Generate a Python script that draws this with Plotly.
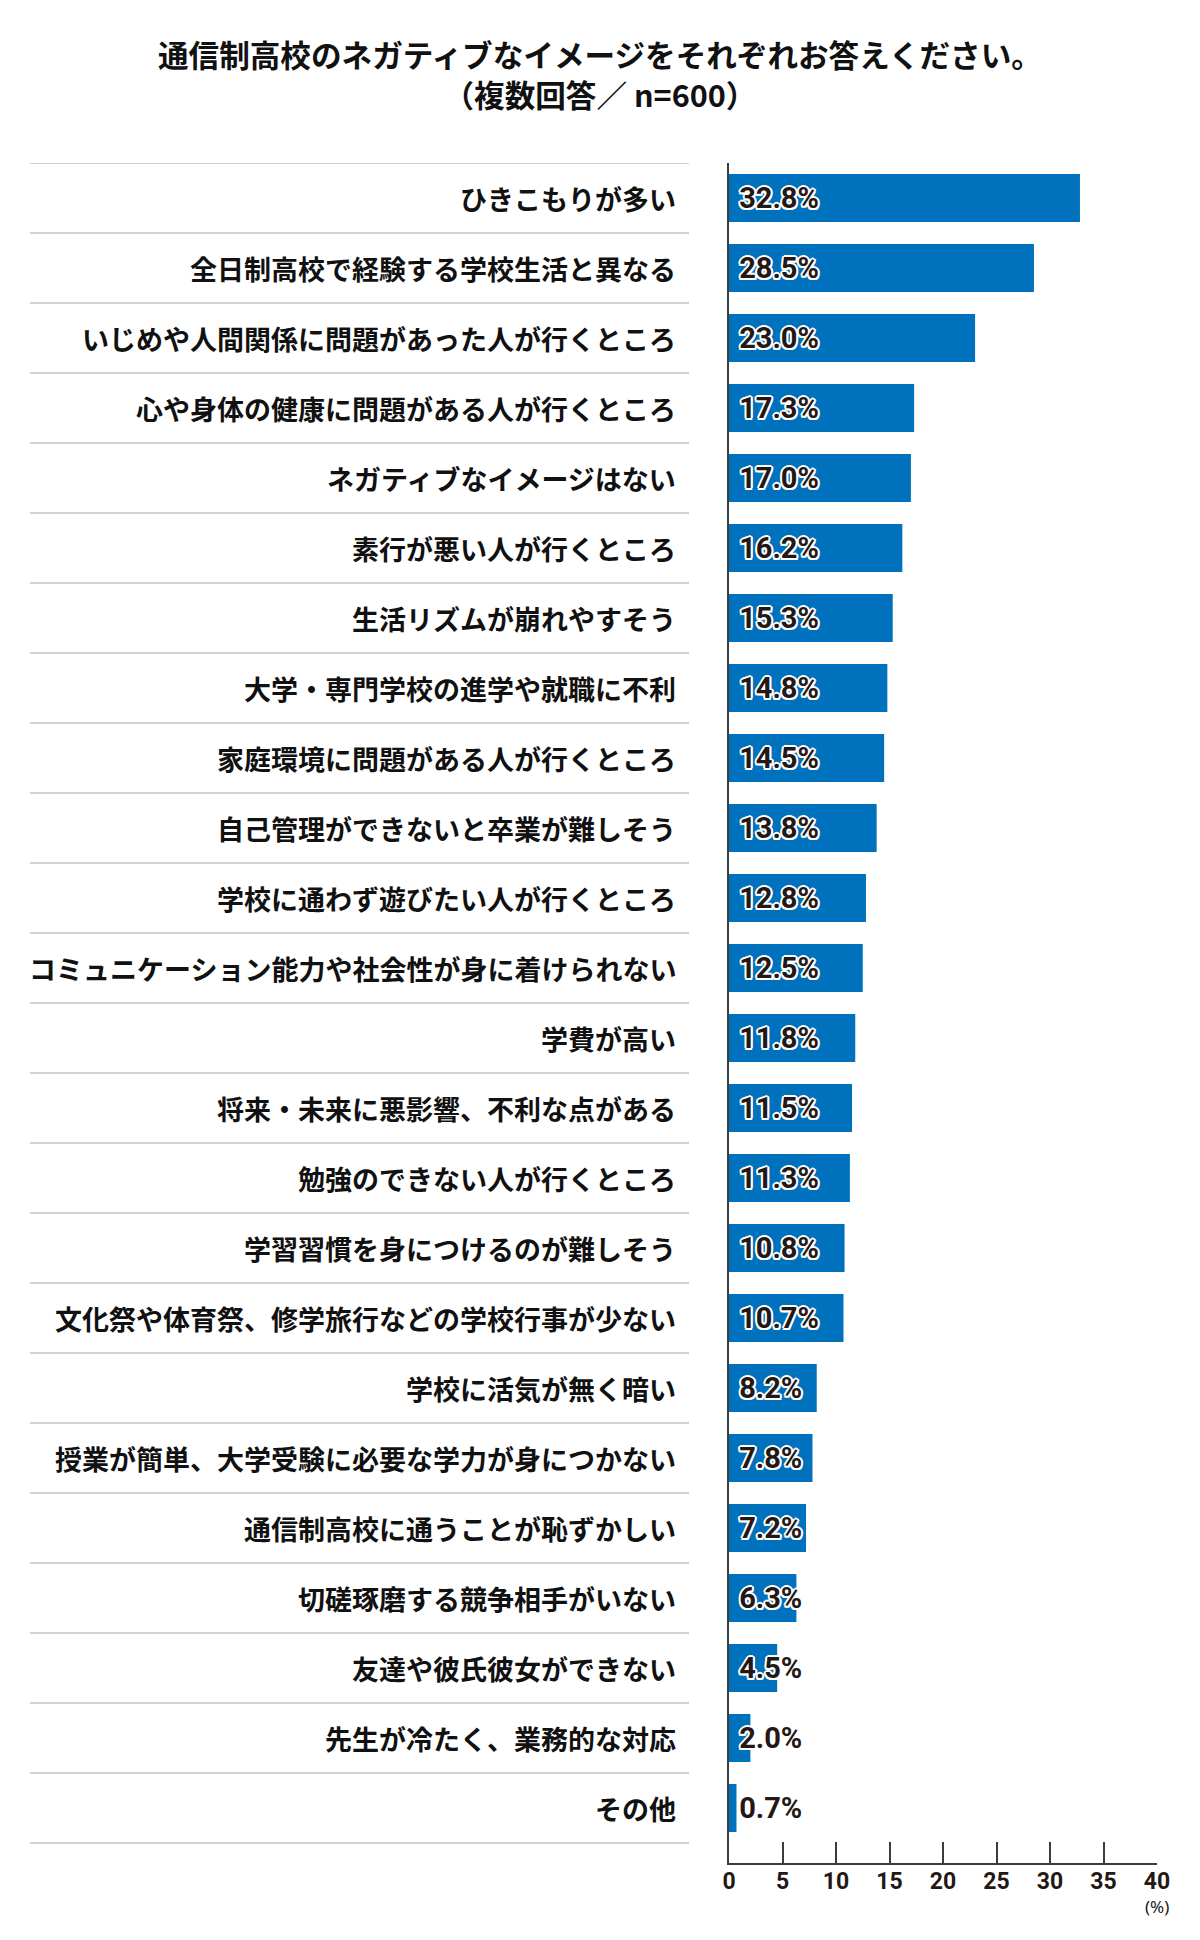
import plotly.graph_objects as go

categories = [
    "ひきこもりが多い",
    "全日制高校で経験する学校生活と異なる",
    "いじめや人間関係に問題があった人が行くところ",
    "心や身体の健康に問題がある人が行くところ",
    "ネガティブなイメージはない",
    "素行が悪い人が行くところ",
    "生活リズムが崩れやすそう",
    "大学・専門学校の進学や就職に不利",
    "家庭環境に問題がある人が行くところ",
    "自己管理ができないと卒業が難しそう",
    "学校に通わず遊びたい人が行くところ",
    "コミュニケーション能力や社会性が身に着けられない",
    "学費が高い",
    "将来・未来に悪影響、不利な点がある",
    "勉強のできない人が行くところ",
    "学習習慣を身につけるのが難しそう",
    "文化祭や体育祭、修学旅行などの学校行事が少ない",
    "学校に活気が無く暗い",
    "授業が簡単、大学受験に必要な学力が身につかない",
    "通信制高校に通うことが恥ずかしい",
    "切磋琢磨する競争相手がいない",
    "友達や彼氏彼女ができない",
    "先生が冷たく、業務的な対応",
    "その他",
]
values = [32.8, 28.5, 23.0, 17.3, 17.0, 16.2, 15.3, 14.8, 14.5, 13.8, 12.8, 12.5,
          11.8, 11.5, 11.3, 10.8, 10.7, 8.2, 7.8, 7.2, 6.3, 4.5, 2.0, 0.7]
x_ticks = [0, 5, 10, 15, 20, 25, 30, 35, 40]
title_line1 = "通信制高校のネガティブなイメージをそれぞれお答えください。"
title_line2 = "（複数回答／ n=600）"

# page has an 8px body margin; work in page coordinates and subtract it
OFF = 8
W, H = 1200 - OFF, 1940 - OFF
AX_L, AX_R, AX_T, AX_B = 729, 1157, 163, 1863   # page px of plot area
L = AX_L - OFF
R = W - (AX_R - OFF)
T = AX_T - OFF
B = H - (AX_B - OFF)
plot_w = AX_R - AX_L
plot_h = AX_B - AX_T

def px_to_paper_x(px):
    return (px - AX_L) / plot_w

def py_to_paper_y(py):
    return (AX_B - py) / plot_h

ypos = list(range(len(categories)))
jp_font = "Noto Sans CJK JP"
dark = "#231815"

fig = go.Figure()
fig.add_trace(go.Bar(
    x=values, y=ypos, orientation="h",
    marker=dict(color="#0071BC", line=dict(width=0)),
    width=0.686, hoverinfo="skip",
))
white_outline = ("2px 0 0 white, -2px 0 0 white, 0 2px 0 white, 0 -2px 0 white, "
                 "1.5px 1.5px 0 white, -1.5px -1.5px 0 white, 1.5px -1.5px 0 white, -1.5px 1.5px 0 white")
fig.add_trace(go.Scatter(
    x=[0.95] * len(values), y=[p + 0.04 for p in ypos], mode="text",
    text=[f"{v:.1f}%" for v in values],
    textposition="middle right",
    textfont=dict(family="Roboto", size=29, color=dark, weight="bold", shadow=white_outline),
    cliponaxis=False, hoverinfo="skip",
))

annotations = []
for i, c in enumerate(categories):
    annotations.append(dict(
        x=px_to_paper_x(678), xref="paper", y=i, yref="y",
        text=c, showarrow=False, xanchor="right", yanchor="middle",
        font=dict(family=jp_font, size=27, color="#111111", weight="bold"),
    ))
annotations.append(dict(
    x=px_to_paper_x(600), xref="paper", y=py_to_paper_y(74), yref="paper", showarrow=False,
    text=title_line1 + "<br>" + title_line2, xanchor="center", yanchor="middle", align="center",
    font=dict(family=jp_font, size=30.6, color="#111111", weight="bold"),
))
annotations.append(dict(
    x=1, xref="paper", y=py_to_paper_y(1906), yref="paper", showarrow=False,
    text="(%)", xanchor="center", yanchor="middle",
    font=dict(family="Noto Sans", size=17, color=dark),
))

shapes = []
for i in range(len(categories) + 1):
    shapes.append(dict(
        type="line", xref="paper", yref="y",
        x0=px_to_paper_x(30), x1=px_to_paper_x(689), y0=i - 0.5, y1=i - 0.5,
        line=dict(color="#d2d2d2", width=2),
    ))

fig.update_layout(
    width=W, height=H,
    margin=dict(l=L, r=R, t=T, b=B, pad=0),
    paper_bgcolor="white", plot_bgcolor="white",
    showlegend=False,
    annotations=annotations, shapes=shapes,
    bargap=0.3,
)
fig.update_xaxes(
    range=[0, 40], tickvals=x_ticks, ticktext=[str(t) for t in x_ticks],
    ticks="inside", ticklen=21, tickwidth=1.5, tickcolor="#3c3c3c",
    showline=True, linecolor="#3c3c3c", linewidth=2,
    showgrid=False, zeroline=False,
    tickfont=dict(family="Roboto", size=23, color=dark, weight="bold"),
    ticklabelstandoff=-4,
    fixedrange=True,
)
fig.update_yaxes(
    range=[len(categories) - 0.5 + (AX_B - (AX_T + 70 * len(categories))) / 70, -0.5],
    showticklabels=False, ticks="",
    showline=True, linecolor="#3c3c3c", linewidth=2,
    showgrid=False, zeroline=False, fixedrange=True,
)

fig.write_html("out.html")
